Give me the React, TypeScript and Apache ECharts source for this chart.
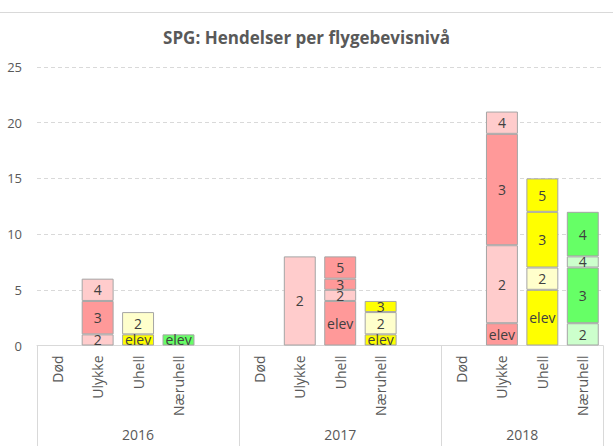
import React, { useEffect, useRef } from "react";
import * as echarts from "echarts";

const titleText = "SPG: Hendelser per flygebevisnivå";
const categories = [
  "Død", "Ulykke", "Uhell", "Næruhell", "",
  "Død", "Ulykke", "Uhell", "Næruhell", "",
  "Død", "Ulykke", "Uhell", "Næruhell",
];
const years = ["2016", "2017", "2018"];
const groupSizes = [5, 5, 4];

const seriesNames = ["elev", "2", "3", "4", "5"];
const elevValues = [null, null, 1, 1, null, null, null, 4, 1, null, null, 2, 5, null];
const level2Values = [null, 1, 2, null, null, null, 8, 1, 2, null, null, 7, 2, 2];
const level3Values = [null, 3, null, null, null, null, null, 1, 1, null, null, 10, 5, 5];
const level4Values = [null, 2, null, null, null, null, null, null, null, null, null, 2, null, 1];
const level5Values = [null, null, null, null, null, null, null, 2, null, null, null, null, 3, 4];
const seriesValues = [elevValues, level2Values, level3Values, level4Values, level5Values];

// colour family of each bar, and shade of each series
const barTone = [null, "red", "yellow", "green", null, null, "red", "red", "yellow", null, null, "red", "yellow", "green"];
const seriesShade = ["dark", "light", "dark", "light", "dark"];
const labelOverrides = [{ series: 4, index: 13, text: "4" }];

const yTicks = [0, 5, 10, 15, 20, 25];

const palette: Record<string, Record<string, string>> = {
  red: { dark: "#FF9999", light: "#FFCCCC" },
  yellow: { dark: "#FFFF00", light: "#FFFFCC" },
  green: { dark: "#66FF66", light: "#CCFFCC" },
};

const FONT = "'Open Sans', sans-serif";

export default function App() {
  const ref = useRef<HTMLDivElement>(null);
  useEffect(() => {
    if (!ref.current) return;
    const chart = echarts.init(ref.current, undefined, { renderer: "svg" });

    const boundaries: number[] = [0];
    const centers: number[] = [];
    groupSizes.forEach((g) => {
      const start = boundaries[boundaries.length - 1];
      centers.push(start + g / 2);
      boundaries.push(start + g);
    });
    const total = boundaries[boundaries.length - 1];

    const series = seriesNames.map((name, si) => ({
      name,
      type: "bar",
      stack: "total",
      xAxisIndex: 0,
      barCategoryGap: "21%",
      data: seriesValues[si].map((v, ci) => {
        if (v == null) return null;
        const tone = barTone[ci] || "red";
        const ov = labelOverrides.find((o) => o.series === si && o.index === ci);
        return {
          value: v,
          itemStyle: { color: palette[tone][seriesShade[si]] },
          label: { formatter: ov ? ov.text : name },
        };
      }),
      itemStyle: { borderColor: "#A5A5A5", borderWidth: 1 },
      label: {
        show: true,
        position: "inside",
        color: "#404040",
        fontSize: 14,
        fontFamily: FONT,
      },
    }));

    chart.setOption({
      animation: false,
      title: {
        text: titleText,
        left: "center",
        top: 24,
        textStyle: { color: "#595959", fontSize: 17, fontWeight: "bold", fontFamily: FONT },
      },
      graphic: [
        {
          type: "line",
          shape: { x1: 0, y1: 12.5, x2: 613, y2: 12.5 },
          style: { stroke: "#D9D9D9", lineWidth: 1 },
        },
      ],
      grid: { left: 37, right: 10, top: 67, bottom: 100.5 },
      xAxis: [
        {
          type: "category",
          data: categories,
          axisLine: { show: true, lineStyle: { color: "#D9D9D9" } },
          axisTick: { show: false },
          axisLabel: {
            rotate: 90,
            margin: 10,
            interval: 0,
            color: "#595959",
            fontSize: 14,
            fontFamily: FONT,
          },
        },
        {
          type: "value",
          position: "bottom",
          min: 0,
          max: total,
          axisLine: { show: false },
          splitLine: { show: false },
          axisTick: {
            show: true,
            customValues: boundaries,
            length: 101,
            lineStyle: { color: "#D9D9D9" },
          },
          axisLabel: {
            customValues: centers,
            margin: 82,
            color: "#595959",
            fontSize: 14,
            fontFamily: FONT,
            formatter: (v: number) => {
              const i = centers.indexOf(v);
              return i >= 0 ? years[i] : "";
            },
          },
        },
      ],
      yAxis: {
        type: "value",
        min: yTicks[0],
        max: yTicks[yTicks.length - 1],
        interval: yTicks[1] - yTicks[0],
        axisLine: { show: false },
        axisTick: { show: false },
        splitLine: { lineStyle: { color: "#D9D9D9", type: [4, 3] } },
        axisLabel: { color: "#595959", fontSize: 13, fontFamily: FONT, margin: 15 },
      },
      series,
    });
    return () => chart.dispose();
  }, []);
  return (
    <div
      ref={ref}
      style={{ position: "fixed", left: 0, top: 0, width: 613, height: 446, background: "#fff" }}
    />
  );
}
